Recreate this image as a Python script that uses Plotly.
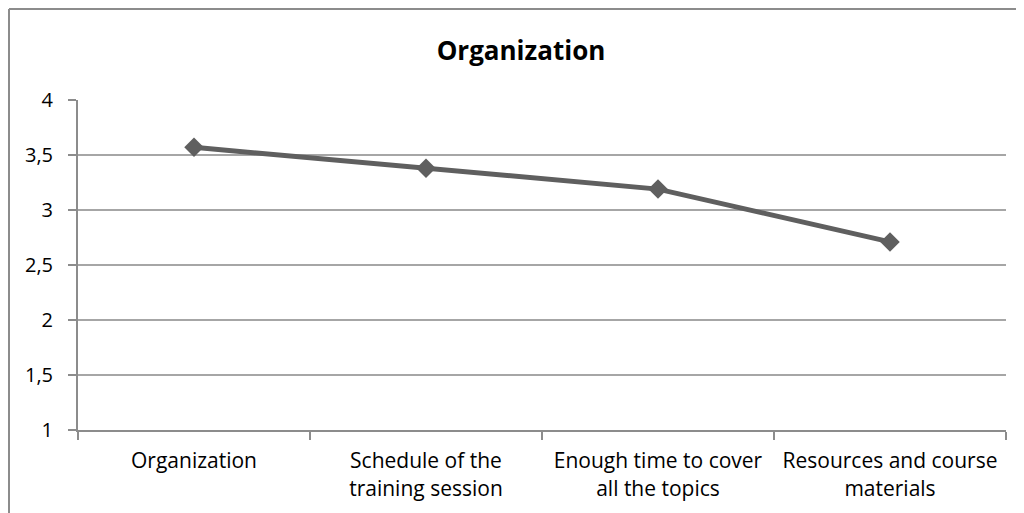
import plotly.graph_objects as go

# categories and scores
categories = ['Organization', 'Schedule of the<br>training session',
              'Enough time to cover<br>all the topics', 'Resources and course<br>materials']
scores = [3.57, 3.38, 3.19, 2.71]
y_ticks = [1, 1.5, 2, 2.5, 3, 3.5, 4]

W, H = 1024, 513
OFF = 8  # page body margin offsets the figure
L, R, T, B = 78 - OFF, 18 + OFF, 100 - OFF, 83 + OFF
PW, PH = W - L - R, H - T - B

fig = go.Figure()
fig.add_trace(go.Scatter(x=categories, y=scores, mode='lines+markers',
                         line=dict(color='#5f5f5f', width=5),
                         marker=dict(symbol='diamond', size=15, color='#5f5f5f'),
                         showlegend=False))

fig.update_layout(
    width=W, height=H,
    margin=dict(l=L, r=R, t=T, b=B, autoexpand=False),
    paper_bgcolor='white', plot_bgcolor='white',
    separators=', ',
    font=dict(family='Open Sans, sans-serif', size=20, color='black'),
    title=dict(text='<b>Organization</b>', x=(521 - OFF) / W, xanchor='center',
               y=1 - (51 - OFF) / H, yanchor='middle', font=dict(size=26)),
    xaxis=dict(type='category', showgrid=False, showline=True, linecolor='#8c8c8c',
               linewidth=2, ticks='outside', tickson='boundaries', ticklen=8,
               tickcolor='#8c8c8c', tickwidth=2, range=[-0.5, 3.5],
               ticklabelstandoff=11, tickfont=dict(size=21)),
    yaxis=dict(range=[1, 4], tickvals=y_ticks, showgrid=True, gridcolor='#a6a6a6',
               gridwidth=2, showline=True, linecolor='#8c8c8c', linewidth=2,
               ticks='outside', ticklen=8, tickcolor='#8c8c8c', tickwidth=2,
               ticklabelstandoff=11, zeroline=False),
    shapes=[
        dict(type='line', xref='paper', yref='paper',
             x0=-(L - 1) / PW, x1=-(L - 1) / PW,
             y0=(PH + T - 1) / PH, y1=-(B + 20) / PH,
             line=dict(color='#8c8c8c', width=2)),
        dict(type='line', xref='paper', yref='paper',
             x0=-(L - 1) / PW, x1=(PW + R + 20) / PW,
             y0=(PH + T - 1) / PH, y1=(PH + T - 1) / PH,
             line=dict(color='#8c8c8c', width=2)),
    ],
)

fig.write_html('out.html')
